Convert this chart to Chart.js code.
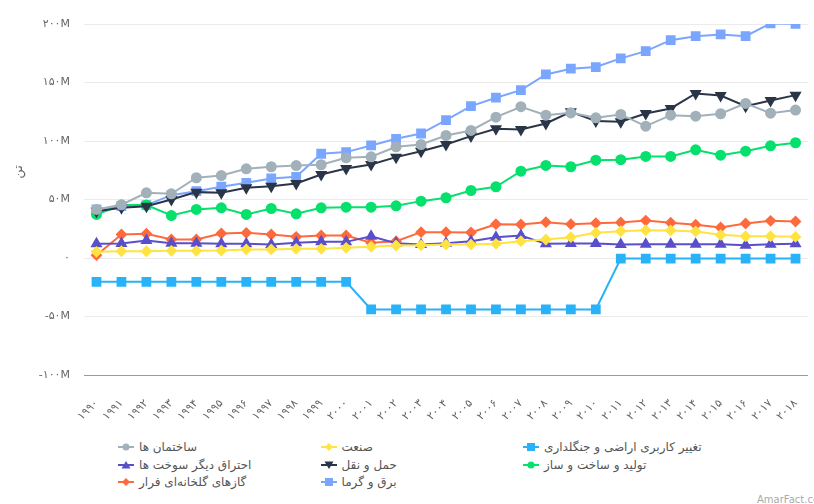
<!DOCTYPE html>
<html lang="fa">
<head>
<meta charset="utf-8">
<script src="https://cdn.jsdelivr.net/npm/chart.js@4.4.1/dist/chart.umd.min.js"></script>
<style>
  html, body { margin: 0; padding: 0; background: #fff; overflow: hidden; width: 814px; height: 504px; }
  #wrap { position: absolute; left: 0; top: 0; width: 819px; height: 425px; }
  #ytitle { position: absolute; left: 10px; top: 164px; width: 16px; height: 16px; font: 13px "DejaVu Sans", sans-serif; color: #666;
    transform: rotate(-90deg); text-align: center; line-height: 16px; }
  #legend { position: absolute; left: 118px; top: 440px; display: grid; grid-template-columns: 202.5px 202.5px 202.5px; row-gap: 3px; }
  .item { display: flex; align-items: center; height: 14.5px; font: 12px "DejaVu Sans", sans-serif; color: #555; }
  .item svg { margin-right: 5px; flex: none; }
  #mark { position: absolute; left: 757px; top: 494px; font: 10px "DejaVu Sans", sans-serif; color: #aaa; white-space: nowrap; }
</style>
</head>
<body>
<div id="wrap"><canvas id="chart"></canvas></div>
<div id="ytitle">تن</div>
<div id="legend"></div>
<div id="mark">AmarFact.com</div>
<script>
// values in million tonnes
const years = ['1990','1991','1992','1993','1994','1995','1996','1997','1998','1999','2000','2001','2002','2003','2004',
  '2005','2006','2007','2008','2009','2010','2011','2012','2013','2014','2015','2016','2017','2018'];

const buildings = [41.5, 45.5, 55.7, 54.9, 68.6, 70.5, 76.2, 78, 79, 79.7, 85.6, 86.5, 95, 97, 104.7,
  109, 120.4, 129.3, 122.1, 124.1, 119.8, 122.7, 112.7, 122.1, 121.2, 123.3, 132.1, 123.8, 126.4];
const industry = [5.3, 5.8, 5.8, 6.1, 6.1, 6.4, 7.3, 7.3, 7.8, 7.8, 8.7, 9.6, 10.7, 10.9, 11.5,
  11.5, 12.1, 14.4, 15.8, 17.8, 21.5, 22.9, 23.8, 23.5, 22.7, 19.8, 18.6, 18.6, 18.1];
const landUse = [-20.4, -20.4, -20.4, -20.4, -20.4, -20.4, -20.4, -20.4, -20.4, -20.4, -20.4, -44, -44, -44, -44,
  -44, -44, -44, -44, -44, -44, -0.5, -0.5, -0.5, -0.5, -0.5, -0.5, -0.5, -0.5];
const otherFuel = [12.1, 12.4, 15, 12.7, 12.7, 12.1, 12.1, 11.5, 13, 13.8, 13.8, 18.6, 12.7, 11.5, 12.7,
  14.4, 17.8, 19.2, 12.1, 12.4, 12.4, 11.5, 11.8, 11.8, 11.8, 11.8, 10.9, 11.8, 12.1];
const transport = [40, 43, 44.3, 50, 56.3, 55.7, 60, 61.4, 63.7, 71.4, 76.5, 80, 86.2, 91.3, 97,
  104.2, 110.4, 109.9, 115, 125, 117, 116.4, 123.5, 127.8, 140.6, 138.9, 129.8, 134.7, 139.2];
const manufacturing = [37.2, 45.2, 45.2, 36.3, 41.5, 42.9, 37.2, 42.3, 37.8, 42.9, 43.4, 43.4, 44.6, 48.6, 51.5,
  57.7, 60.9, 74.2, 79.1, 78, 83.6, 84, 86.8, 86.8, 92.5, 87.9, 91.3, 95.9, 98.5];
const fugitive = [2.4, 20.1, 20.7, 15.8, 15.8, 21, 21.5, 20.1, 18.1, 19.2, 19.2, 13, 14.4, 22.1, 22.1,
  21.8, 28.9, 28.6, 30.6, 28.9, 29.8, 30.4, 32, 30.1, 28.4, 26.1, 29.5, 31.8, 31.2];
const electricity = [41.5, 44.3, 45.2, 53.7, 57.1, 60.9, 64.3, 68, 69.4, 89.1, 90.5, 96.2, 101.9, 106.4, 117.8,
  129.8, 137, 143.5, 156.9, 161.8, 163.2, 170.6, 176.8, 186.2, 189.6, 191.1, 189.6, 200.5, 200.2];

const yTicks = [-100, -50, 0, 50, 100, 150, 200];

const faDigits = '۰۱۲۳۴۵۶۷۸۹';
function toFa(s) {
    return String(s).replace(/[0-9]/g, d => faDigits[+d]);
}

function series(label, data, color, style, radius, rotation) {
    return {
        label: label,
        data: data,
        borderColor: color,
        backgroundColor: color,
        pointBackgroundColor: color,
        pointBorderColor: color,
        pointStyle: style,
        pointRadius: radius,
        pointHoverRadius: radius,
        pointRotation: rotation || 0,
        borderWidth: 2,
        tension: 0,
        fill: false
    };
}

const datasets = [
    series('ساختمان ها', buildings, '#a2b1b9', 'circle', 4.5),
    series('صنعت', industry, '#ffe342', 'rectRot', 4.5),
    series('تغییر کاربری اراضی و جنگلداری', landUse, '#29b2f8', 'rect', 5.5),
    series('احتراق دیگر سوخت ها', otherFuel, '#5a4fcb', 'triangle', 5),
    series('حمل و نقل', transport, '#2b3548', 'triangle', 5, 180),
    series('تولید و ساخت و ساز', manufacturing, '#06e06c', 'circle', 4.5),
    series('گازهای گلخانه‌ای فرار', fugitive, '#ff6a3d', 'rectRot', 4.5),
    series('برق و گرما', electricity, '#7aa6ff', 'rect', 5.5)
];

new Chart(document.getElementById('chart'), {
    type: 'line',
    data: { labels: years, datasets: datasets },
    options: {
        responsive: true,
        maintainAspectRatio: false,
        animation: false,
        layout: { padding: { top: 24, left: 0, right: 0, bottom: 0 } },
        plugins: {
            legend: { display: false },
            tooltip: { enabled: false }
        },
        scales: {
            x: {
                offset: true,
                grid: { display: false },
                border: { display: false },
                ticks: {
                    minRotation: 45,
                    maxRotation: 45,
                    autoSkip: false,
                    padding: 14,
                    color: '#666',
                    font: { family: '"DejaVu Sans", sans-serif', size: 11 },
                    callback: function (v) { return toFa(years[v]); }
                },
                afterFit: function (s) { s.height = 50; }
            },
            y: {
                min: yTicks[0],
                max: yTicks[yTicks.length - 1],
                afterBuildTicks: function (s) { s.ticks = yTicks.map(v => ({ value: v })); },
                grid: {
                    drawTicks: false,
                    lineWidth: 1,
                    color: ctx => (ctx.tick && ctx.tick.value === yTicks[0]) ? '#9a9a9a' : '#ebebeb'
                },
                border: { display: false },
                ticks: {
                    padding: 14,
                    color: '#666',
                    font: { family: '"DejaVu Sans", sans-serif', size: 11 },
                    callback: function (v) { return v === 0 ? toFa(0) : toFa(v) + 'M'; }
                },
                afterFit: function (s) { s.width = 84; }
            }
        }
    }
});

// html legend, three columns like the original
function icon(ds) {
    const c = ds.borderColor;
    let m = '';
    if (ds.pointStyle === 'circle') m = `<circle cx="8" cy="5" r="3.5" fill="${c}"/>`;
    else if (ds.pointStyle === 'rect') m = `<rect x="4" y="1" width="8" height="8" fill="${c}"/>`;
    else if (ds.pointStyle === 'rectRot') m = `<polygon points="8,1 12,5 8,9 4,5" fill="${c}"/>`;
    else if (ds.pointRotation === 180) m = `<polygon points="3.5,1.5 12.5,1.5 8,9" fill="${c}"/>`;
    else m = `<polygon points="8,1 12.5,8.5 3.5,8.5" fill="${c}"/>`;
    return `<svg width="16" height="10"><line x1="0" y1="5" x2="16" y2="5" stroke="${c}" stroke-width="2"/>${m}</svg>`;
}

const legendDiv = document.getElementById('legend');
datasets.forEach(ds => {
    const el = document.createElement('div');
    el.className = 'item';
    el.innerHTML = icon(ds) + `<span dir="rtl">${ds.label}</span>`;
    legendDiv.appendChild(el);
});
</script>
</body>
</html>
